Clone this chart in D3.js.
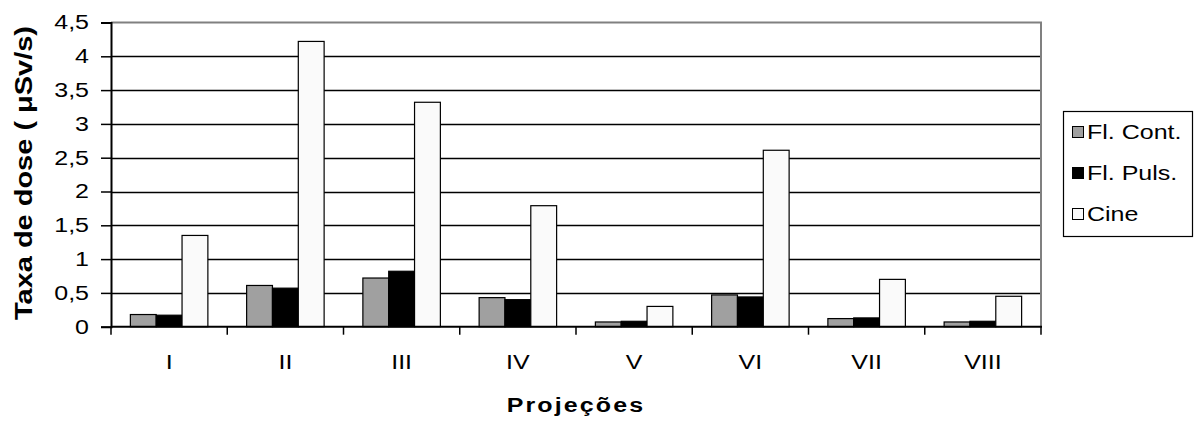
<!DOCTYPE html>
<html>
<head>
<meta charset="utf-8">
<script src="https://cdn.jsdelivr.net/npm/d3@7"></script>
<style>
  html, body { margin: 0; padding: 0; background: #fff; }
  svg { display: block; font-family: "Liberation Sans", Arial, sans-serif; }
</style>
</head>
<body>
<svg id="chart" width="1197" height="424"></svg>
<script>
// Projections and dose-rate values (µSv/s) per acquisition mode
const categories = ["I", "II", "III", "IV", "V", "VI", "VII", "VIII"];
const seriesNames = ["Fl. Cont.", "Fl. Puls.", "Cine"];
const flCont  = [0.18, 0.61, 0.72, 0.43, 0.07, 0.47, 0.12, 0.07];
const flPuls  = [0.17, 0.57, 0.82, 0.40, 0.08, 0.44, 0.13, 0.08];
const cine    = [1.35, 4.22, 3.32, 1.79, 0.30, 2.61, 0.70, 0.45];
const yTicks  = [0, 0.5, 1, 1.5, 2, 2.5, 3, 3.5, 4, 4.5];
const seriesColors = ["#a0a0a0", "#000000", "#fafafa"];

const seriesValues = [flCont, flPuls, cine];
const rows = categories.map((c, i) => ({
  cat: c,
  vals: seriesNames.map((s, k) => ({ key: s, value: seriesValues[k][i] }))
}));

const svg = d3.select("#chart");
const SX = 1.25;          // horizontal widening of the text glyphs
const FS = 20;            // label font size
const fmt = v => String(v).replace(".", ",");

const plot = { left: 111, right: 1041, top: 22.5, bottom: 326.7 };

const x = d3.scaleBand().domain(categories).range([plot.left, plot.right]).padding(0);
const xs = d3.scaleBand().domain(seriesNames).range([0, x.bandwidth()])
  .paddingInner(0).paddingOuter(0.75);
const y = d3.scaleLinear().domain([0, 4.5]).range([plot.bottom, plot.top]);
const color = d3.scaleOrdinal().domain(seriesNames).range(seriesColors);

// horizontal gridlines
svg.append("g")
  .selectAll("line")
  .data(yTicks.filter(t => t > 0 && t < 4.5))
  .join("line")
  .attr("x1", plot.left).attr("x2", plot.right)
  .attr("y1", d => Math.round(y(d)) + 0.5).attr("y2", d => Math.round(y(d)) + 0.5)
  .attr("stroke", "#000").attr("stroke-width", 1.4);

// plot frame (top and right in grey)
svg.append("path")
  .attr("d", `M${plot.left},${plot.top}H${plot.right}V${plot.bottom}`)
  .attr("fill", "none").attr("stroke", "#808080").attr("stroke-width", 2);

// bars
svg.append("g")
  .selectAll("g")
  .data(rows)
  .join("g")
  .attr("transform", d => `translate(${x(d.cat)},0)`)
  .selectAll("rect")
  .data(d => d.vals)
  .join("rect")
  .attr("x", d => xs(d.key))
  .attr("y", d => y(d.value))
  .attr("width", xs.bandwidth())
  .attr("height", d => y(0) - y(d.value))
  .attr("fill", d => color(d.key))
  .attr("stroke", "#000")
  .attr("stroke-width", 1.2);

// y axis
const yAxis = svg.append("g")
  .attr("transform", `translate(${plot.left},0)`)
  .call(d3.axisLeft(y).tickValues(yTicks).tickSize(10).tickPadding(12).tickFormat(fmt));
yAxis.select(".domain").attr("stroke", "#000").attr("stroke-width", 2);
yAxis.selectAll(".tick line").attr("stroke", "#000").attr("stroke-width", 1.5);
yAxis.selectAll(".tick text")
  .attr("font-size", FS).attr("fill", "#000")
  .attr("font-family", "Liberation Sans, Arial, sans-serif")
  .each(function () {
    const t = d3.select(this);
    const xx = +t.attr("x");
    t.attr("x", null).attr("transform", `translate(${xx},0) scale(${SX},1)`);
  });

// x axis: ticks at category boundaries
const xAxis = svg.append("g")
  .attr("transform", `translate(0,${plot.bottom})`);
xAxis.append("line")
  .attr("x1", plot.left).attr("x2", plot.right + 1)
  .attr("y1", 0).attr("y2", 0)
  .attr("stroke", "#000").attr("stroke-width", 2);
const boundaries = categories.map(c => x(c)).concat([x.range()[1]]);
xAxis.selectAll("line.tick")
  .data(boundaries)
  .join("line")
  .attr("class", "tick")
  .attr("x1", d => d).attr("x2", d => d)
  .attr("y1", 0).attr("y2", 8)
  .attr("stroke", "#000").attr("stroke-width", 1.5);
xAxis.selectAll("text")
  .data(categories)
  .join("text")
  .attr("transform", d => `translate(${x(d) + x.bandwidth() / 2},${362 - plot.bottom}) scale(${SX},1)`)
  .attr("text-anchor", "middle")
  .attr("dy", "0.35em")
  .attr("font-size", FS)
  .text(d => d);

// axis titles
svg.append("text")
  .attr("transform", `translate(576,405) scale(${SX},1)`)
  .attr("text-anchor", "middle")
  .attr("dy", "0.35em")
  .attr("font-size", FS)
  .attr("font-weight", "bold")
  .attr("letter-spacing", 1.7)
  .text("Projeções");

svg.append("text")
  .attr("transform", `translate(24,173) rotate(-90) scale(1.38,1.15)`)
  .attr("text-anchor", "middle")
  .attr("dy", "0.35em")
  .attr("font-size", 21)
  .attr("font-weight", "bold")
  .text("Taxa de dose ( μSv/s)");

// legend
const legend = svg.append("g").attr("transform", "translate(1063,111)");
legend.append("rect")
  .attr("x", 0.5).attr("y", 0.5).attr("width", 129).attr("height", 125)
  .attr("fill", "#fff").attr("stroke", "#000").attr("stroke-width", 1.2);
const items = legend.selectAll("g.item")
  .data(seriesNames)
  .join("g")
  .attr("class", "item")
  .attr("transform", (d, i) => `translate(0,${21 + i * 41})`);
items.append("rect")
  .attr("x", 9.5).attr("y", -5.5).attr("width", 11).attr("height", 11)
  .attr("fill", d => color(d)).attr("stroke", "#000").attr("stroke-width", 1);
items.append("text")
  .attr("transform", `translate(24,0) scale(${SX},1)`)
  .attr("dy", "0.35em")
  .attr("font-size", FS)
  .text(d => d);
</script>
</body>
</html>
